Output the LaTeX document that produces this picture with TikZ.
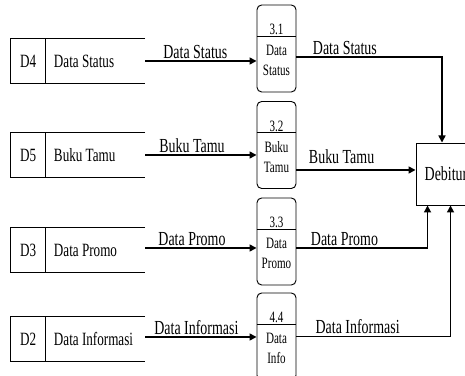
\documentclass[tikz,border=0pt]{standalone}
\usepackage{fontspec}
\setmainfont{Liberation Serif}[FakeStretch=0.7]
\usetikzlibrary{arrows.meta}
\tikzset{
    store/.style = {minimum width=4.02cm, minimum height=1.32cm, inner sep=0pt},
    proc/.style  = {draw, line width=0.8pt, rounded corners=4pt, minimum width=1.17cm, minimum height=2.61cm, inner sep=0pt},
    ent/.style   = {draw, line width=0.8pt, minimum width=1.8cm, minimum height=1.86cm, inner sep=0pt, font=\fontsize{17}{19}\selectfont},
    flow/.style  = {-{Triangle[length=6pt,width=6pt]}, line width=1.3pt},
    lbl/.style   = {inner sep=1.5pt, font=\fontsize{17}{19}\selectfont},
    stxt/.style  = {inner sep=0pt, font=\fontsize{16}{18}\selectfont},
    ptxt/.style  = {inner sep=0pt, align=center, font=\fontsize{13.5}{16.5}\selectfont},
    pid/.style   = {inner sep=1pt, anchor=south, font=\fontsize{13.5}{15}\selectfont},
}
\begin{document}
\begin{tikzpicture}[x=0.03cm, y=-0.03cm]
            \useasboundingbox (0,0) rectangle (465,376);
            \clip             (0,0) rectangle (465,376);
            \node[store] (d4) at ( 78, 61) {};
            \node[store] (d5) at ( 78,155) {};
            \node[store] (d3) at ( 78,250) {};
            \node[store] (d2) at ( 78,339) {};
            \foreach \s/\i/\n in {d4/D4/Data Status, d5/D5/Buku Tamu, d3/D3/Data Promo, d2/D2/Data Informasi}{
                \draw[line width=0.8pt] (\s.north east) -- (\s.north west) -- (\s.south west) -- (\s.south east);
                \draw[line width=0.8pt] ([xshift=1.05cm]\s.north west) -- ([xshift=1.05cm]\s.south west);
                \node[stxt]             at ([xshift=0.525cm]\s.west) {\i};
                \node[stxt, anchor=west] at ([xshift=1.29cm]\s.west) {\n};
            }
            \node[proc] (p31) at (276.5, 48.5) {};
            \node[proc] (p32) at (276.5,145.0) {};
            \node[proc] (p33) at (276.5,241.5) {};
            \node[proc] (p44) at (276.5,336.5) {};
            \foreach \p/\i/\n in {p31/3.1/Data\\Status, p32/3.2/Buku\\Tamu, p33/3.3/Data\\Promo, p44/4.4/Data\\Info}{
                \draw[line width=0.8pt] ([yshift=-0.95cm]\p.north west) -- ([yshift=-0.95cm]\p.north east);
                \node[pid]  at ([yshift=-0.95cm]\p.north) {\i};
                \node[ptxt] at ([yshift=-1.68cm]\p.north) {\n};
            }
            \node[ent] (deb) at (446,174) {Debitur};
            \draw[flow] (d4.east) -- (d4.east -| p31.west) node[lbl, above, pos=0.45] {Data Status};
            \draw[flow] (d5.east) -- (d5.east -| p32.west) node[lbl, above, pos=0.42] {Buku Tamu};
            \draw[flow] ([yshift=0.06cm]d3.east) -- ([yshift=0.06cm]d3.east -| p33.west) node[lbl, above, pos=0.42] {Data Promo};
            \draw[flow] ([yshift=0.06cm]d2.east) -- ([yshift=0.06cm]d2.east -| p44.west) node[lbl, above, pos=0.46] {Data Informasi};
            \draw[flow] ([yshift=-0.255cm]p31.east) -| ([xshift=-0.12cm]deb.north)
                 node[lbl, above right, pos=0, xshift=0.42cm] {Data Status};
            \draw[flow] ([yshift=-0.75cm]p32.east) -- ([yshift=-0.75cm]p32.east -| deb.west)
                 node[lbl, above right, pos=0, xshift=0.3cm, yshift=0.1cm] {Buku Tamu};
            \draw[flow] ([yshift=-0.195cm]p33.east) -| ([xshift=0.36cm]deb.south west)
                 node[lbl, above right, pos=0, xshift=0.36cm] {Data Promo};
            \draw[flow] (p44.east) -| ([xshift=1.05cm]deb.south west)
                 node[lbl, above right, pos=0, xshift=0.5cm] {Data Informasi};
\end{tikzpicture}
\end{document}
